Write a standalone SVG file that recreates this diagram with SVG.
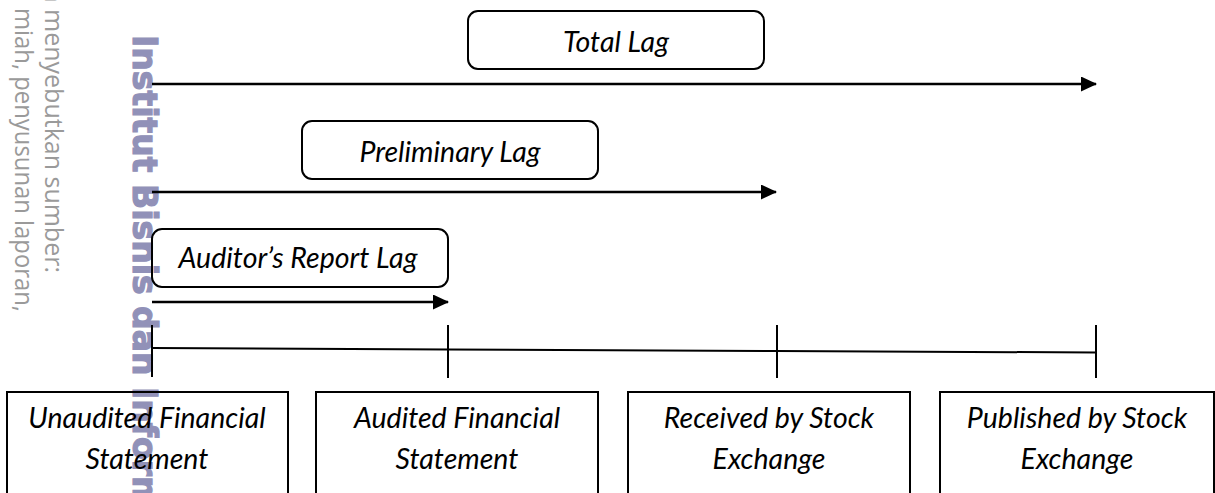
<svg xmlns="http://www.w3.org/2000/svg" width="1215" height="493" viewBox="0 0 1215 493">
  <style>
    .lbl { font-family: Lato, "Liberation Sans", sans-serif; font-style: italic; font-size: 28.5px; fill: #000; text-anchor: middle; }
    .rbox { fill: none; stroke: #000; stroke-width: 2; }
    .box { fill: none; stroke: #000; stroke-width: 2; }
    .arrow { stroke: #000; stroke-width: 2.5; fill: none; }
    .tick { stroke: #000; stroke-width: 2; fill: none; }
    .wm-note { font-family: "Open Sans", "DejaVu Sans", sans-serif; font-weight: 400; font-size: 25px; fill: #9a9a9a; }
    .wm-name { font-family: "DejaVu Sans", sans-serif; font-weight: bold; font-size: 33px; fill: #9191b8; stroke: #9191b8; stroke-width: 1.2; }
  </style>
  <defs>
    <marker id="head" viewBox="0 0 16 15" refX="15" refY="7.5" markerWidth="16" markerHeight="15" markerUnits="userSpaceOnUse" orient="auto">
      <path d="M0,0 L16,7.5 L0,15 z" fill="#000"/>
    </marker>
  </defs>

  <rect width="1215" height="493" fill="#fff"/>

  <!-- watermark behind the figure -->
  <g id="watermark">
    <text class="wm-note" transform="translate(45,273) rotate(90)" text-anchor="end">n menyebutkan sumber:</text>
    <text class="wm-note" transform="translate(15,8) rotate(90)" textLength="304" lengthAdjust="spacingAndGlyphs">miah, penyusunan laporan,</text>
    <text class="wm-name" transform="translate(133,35) rotate(90)">Institut Bisnis dan Inform</text>
  </g>

  <!-- lag spans and the timeline -->
  <g id="connectors">
    <line class="arrow" x1="152" y1="84" x2="1096" y2="84" marker-end="url(#head)"/>
    <line class="arrow" x1="152" y1="192" x2="776" y2="192" marker-end="url(#head)"/>
    <line class="arrow" x1="152" y1="302" x2="448" y2="302" marker-end="url(#head)"/>
    <polyline class="tick" points="152,348 448,349.5 777,351 1096,352.5"/>
    <line class="tick" x1="152" y1="325" x2="152" y2="377"/>
    <line class="tick" x1="448" y1="325" x2="448" y2="378"/>
    <line class="tick" x1="777" y1="325" x2="777" y2="378"/>
    <line class="tick" x1="1096" y1="325" x2="1096" y2="378"/>
  </g>

  <g id="total-lag">
    <rect class="rbox" x="468" y="11" width="296" height="58" rx="10"/>
    <text class="lbl" x="616" y="52">Total Lag</text>
  </g>
  <g id="preliminary-lag">
    <rect class="rbox" x="302" y="121" width="296" height="58" rx="10"/>
    <text class="lbl" x="450" y="162">Preliminary Lag</text>
  </g>
  <g id="auditors-report-lag">
    <rect class="rbox" x="152" y="229" width="296" height="58" rx="10"/>
    <text class="lbl" x="298" y="268">Auditor’s Report Lag</text>
  </g>

  <g id="unaudited">
    <rect class="box" x="7" y="392" width="281" height="120"/>
    <text class="lbl" x="147" y="428">Unaudited Financial</text>
    <text class="lbl" x="147" y="469">Statement</text>
  </g>
  <g id="audited">
    <rect class="box" x="316" y="392" width="282" height="120"/>
    <text class="lbl" x="457" y="428">Audited Financial</text>
    <text class="lbl" x="457" y="469">Statement</text>
  </g>
  <g id="received">
    <rect class="box" x="628" y="392" width="282" height="120"/>
    <text class="lbl" x="769" y="428">Received by Stock</text>
    <text class="lbl" x="769" y="469">Exchange</text>
  </g>
  <g id="published">
    <rect class="box" x="940" y="392" width="274" height="120"/>
    <text class="lbl" x="1077" y="428">Published by Stock</text>
    <text class="lbl" x="1077" y="469">Exchange</text>
  </g>
</svg>
